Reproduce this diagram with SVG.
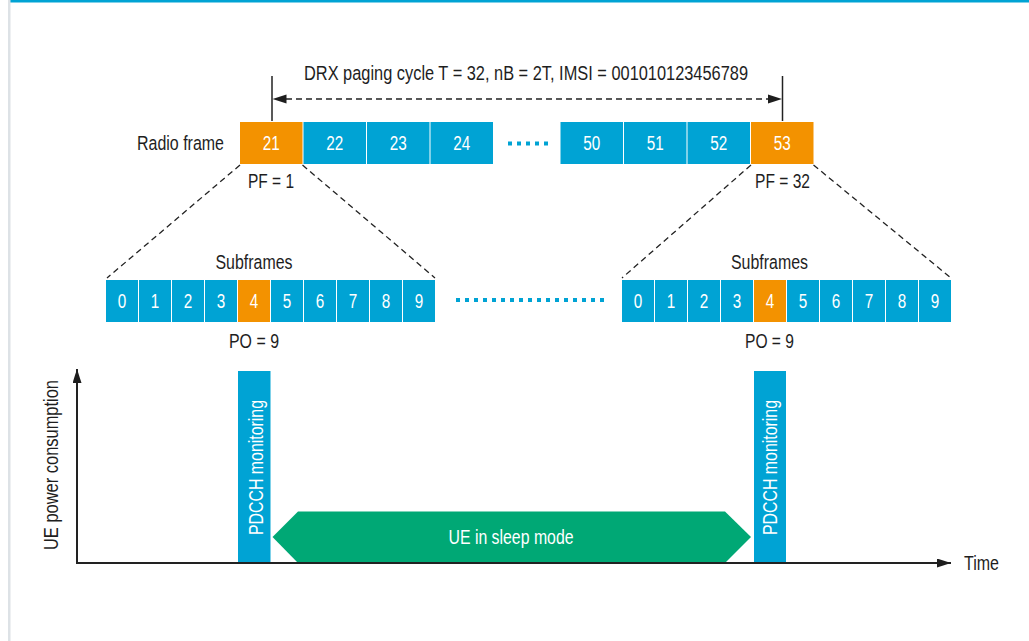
<svg xmlns="http://www.w3.org/2000/svg" width="1029" height="641" viewBox="0 0 1029 641">
  <defs>
    <style>
      .t { font-family: "Liberation Sans Narrow", "Liberation Sans", Roboto, sans-serif; fill: #1e1e1e; font-size: 20.5px; }
      .w { font-family: "Liberation Sans Narrow", "Liberation Sans", Roboto, sans-serif; fill: #ffffff; font-size: 20px; text-anchor: middle; }
      .c { text-anchor: middle; }
      .blue { fill: #00a3d4; }
      .orange { fill: #f39200; }
      .green { fill: #00a875; }
      .dash { stroke: #222; stroke-width: 1.3; stroke-dasharray: 6 4; fill: none; }
      .tick { stroke: #222; stroke-width: 1.5; }
      .dots { stroke: #00a3d4; stroke-width: 4; stroke-dasharray: 4 5; fill: none; }
      .axis { stroke: #222; stroke-width: 2; fill: none; }
    </style>
    <marker id="ah" viewBox="0 0 14 9" refX="14" refY="4.5" markerWidth="14" markerHeight="9" markerUnits="userSpaceOnUse" orient="auto">
      <path d="M0,0 L14,4.5 L0,9 Z" fill="#1e1e1e"/>
    </marker>
  </defs>

  <!-- page frame -->
  <rect x="0" y="0" width="1029" height="641" fill="#ffffff"/>
  <rect x="8" y="0" width="1021" height="2.5" fill="#00a3d4"/>
  <rect x="8" y="0" width="2.5" height="641" fill="#dde2e6"/>

  <!-- DRX cycle span -->
  <g id="drx-cycle">
    <line class="tick" x1="272" y1="76" x2="272" y2="121"/>
    <line class="tick" x1="782.5" y1="76" x2="782.5" y2="121"/>
    <line class="dash" x1="286" y1="99" x2="768" y2="99"/>
    <path d="M272.5,99 L286.5,94.5 L286.5,103.5 Z" fill="#1e1e1e"/>
    <path d="M782,99 L768,94.5 L768,103.5 Z" fill="#1e1e1e"/>
    <text class="t c" x="526" y="80" font-size="21" textLength="444" lengthAdjust="spacingAndGlyphs">DRX paging cycle T = 32, nB = 2T, IMSI = 001010123456789</text>
  </g>

  <!-- radio frames -->
  <g id="radio-frames">
    <text class="t" x="224" y="150" text-anchor="end" textLength="87" lengthAdjust="spacingAndGlyphs">Radio frame</text>
    <rect class="orange" x="240" y="122" width="62.5" height="42"/>
    <rect class="blue" x="303.5" y="122" width="62.5" height="42"/>
    <rect class="blue" x="367" y="122" width="62.5" height="42"/>
    <rect class="blue" x="430.5" y="122" width="62.5" height="42"/>
    <rect class="blue" x="560.5" y="122" width="62.5" height="42"/>
    <rect class="blue" x="624" y="122" width="62.5" height="42"/>
    <rect class="blue" x="687.5" y="122" width="62.5" height="42"/>
    <rect class="orange" x="751" y="122" width="62.5" height="42"/>
    <g class="w">
      <text x="271.3" y="150" textLength="17" lengthAdjust="spacingAndGlyphs">21</text>
      <text x="334.8" y="150" textLength="17" lengthAdjust="spacingAndGlyphs">22</text>
      <text x="398.3" y="150" textLength="17" lengthAdjust="spacingAndGlyphs">23</text>
      <text x="461.8" y="150" textLength="17" lengthAdjust="spacingAndGlyphs">24</text>
      <text x="591.8" y="150" textLength="17" lengthAdjust="spacingAndGlyphs">50</text>
      <text x="655.3" y="150" textLength="17" lengthAdjust="spacingAndGlyphs">51</text>
      <text x="718.8" y="150" textLength="17" lengthAdjust="spacingAndGlyphs">52</text>
      <text x="782.3" y="150" textLength="17" lengthAdjust="spacingAndGlyphs">53</text>
    </g>
    <line class="dots" x1="508" y1="143.5" x2="548" y2="143.5"/>
    <text class="t c" x="271" y="188" textLength="46" lengthAdjust="spacingAndGlyphs">PF = 1</text>
    <text class="t c" x="782.5" y="188" textLength="55" lengthAdjust="spacingAndGlyphs">PF = 32</text>
  </g>

  <!-- zoom lines from paging frames to subframes -->
  <g id="connectors">
    <line class="dash" x1="240" y1="165" x2="107" y2="278"/>
    <line class="dash" x1="302.5" y1="165" x2="435" y2="278"/>
    <line class="dash" x1="751" y1="165" x2="622" y2="278"/>
    <line class="dash" x1="813.5" y1="165" x2="951" y2="278"/>
  </g>

  <!-- subframes of first paging frame -->
  <g id="subframes-left">
    <text class="t c" x="254" y="269" textLength="77" lengthAdjust="spacingAndGlyphs">Subframes</text>
    <rect class="blue" x="106" y="280" width="32" height="42"/>
    <rect class="blue" x="139" y="280" width="32" height="42"/>
    <rect class="blue" x="172" y="280" width="32" height="42"/>
    <rect class="blue" x="205" y="280" width="32" height="42"/>
    <rect class="orange" x="238" y="280" width="32" height="42"/>
    <rect class="blue" x="271" y="280" width="32" height="42"/>
    <rect class="blue" x="304" y="280" width="32" height="42"/>
    <rect class="blue" x="337" y="280" width="32" height="42"/>
    <rect class="blue" x="370" y="280" width="32" height="42"/>
    <rect class="blue" x="403" y="280" width="32" height="42"/>
    <g class="w">
      <text x="122" y="308" textLength="8.5" lengthAdjust="spacingAndGlyphs">0</text>
      <text x="155" y="308" textLength="8.5" lengthAdjust="spacingAndGlyphs">1</text>
      <text x="188" y="308" textLength="8.5" lengthAdjust="spacingAndGlyphs">2</text>
      <text x="221" y="308" textLength="8.5" lengthAdjust="spacingAndGlyphs">3</text>
      <text x="254" y="308" textLength="8.5" lengthAdjust="spacingAndGlyphs">4</text>
      <text x="287" y="308" textLength="8.5" lengthAdjust="spacingAndGlyphs">5</text>
      <text x="320" y="308" textLength="8.5" lengthAdjust="spacingAndGlyphs">6</text>
      <text x="353" y="308" textLength="8.5" lengthAdjust="spacingAndGlyphs">7</text>
      <text x="386" y="308" textLength="8.5" lengthAdjust="spacingAndGlyphs">8</text>
      <text x="419" y="308" textLength="8.5" lengthAdjust="spacingAndGlyphs">9</text>
    </g>
    <text class="t c" x="254" y="348" textLength="50" lengthAdjust="spacingAndGlyphs">PO = 9</text>
  </g>

  <line id="subframe-gap" class="dots" x1="456" y1="300" x2="605" y2="300"/>

  <!-- subframes of last paging frame -->
  <g id="subframes-right">
    <text class="t c" x="769.5" y="269" textLength="77" lengthAdjust="spacingAndGlyphs">Subframes</text>
    <rect class="blue" x="622" y="280" width="32" height="42"/>
    <rect class="blue" x="655" y="280" width="32" height="42"/>
    <rect class="blue" x="688" y="280" width="32" height="42"/>
    <rect class="blue" x="721" y="280" width="32" height="42"/>
    <rect class="orange" x="754" y="280" width="32" height="42"/>
    <rect class="blue" x="787" y="280" width="32" height="42"/>
    <rect class="blue" x="820" y="280" width="32" height="42"/>
    <rect class="blue" x="853" y="280" width="32" height="42"/>
    <rect class="blue" x="886" y="280" width="32" height="42"/>
    <rect class="blue" x="919" y="280" width="32" height="42"/>
    <g class="w">
      <text x="638" y="308" textLength="8.5" lengthAdjust="spacingAndGlyphs">0</text>
      <text x="671" y="308" textLength="8.5" lengthAdjust="spacingAndGlyphs">1</text>
      <text x="704" y="308" textLength="8.5" lengthAdjust="spacingAndGlyphs">2</text>
      <text x="737" y="308" textLength="8.5" lengthAdjust="spacingAndGlyphs">3</text>
      <text x="770" y="308" textLength="8.5" lengthAdjust="spacingAndGlyphs">4</text>
      <text x="803" y="308" textLength="8.5" lengthAdjust="spacingAndGlyphs">5</text>
      <text x="836" y="308" textLength="8.5" lengthAdjust="spacingAndGlyphs">6</text>
      <text x="869" y="308" textLength="8.5" lengthAdjust="spacingAndGlyphs">7</text>
      <text x="902" y="308" textLength="8.5" lengthAdjust="spacingAndGlyphs">8</text>
      <text x="935" y="308" textLength="8.5" lengthAdjust="spacingAndGlyphs">9</text>
    </g>
    <text class="t c" x="769.5" y="348" textLength="49" lengthAdjust="spacingAndGlyphs">PO = 9</text>
  </g>

  <!-- power consumption chart -->
  <g id="pdcch-1">
    <rect class="blue" x="238" y="371" width="32.5" height="192"/>
    <text class="w" transform="translate(262.5,467.5) rotate(-90)" font-size="21" textLength="135" lengthAdjust="spacingAndGlyphs">PDCCH monitoring</text>
  </g>
  <g id="pdcch-2">
    <rect class="blue" x="754" y="371" width="32" height="192"/>
    <text class="w" transform="translate(777,467.5) rotate(-90)" font-size="21" textLength="135" lengthAdjust="spacingAndGlyphs">PDCCH monitoring</text>
  </g>
  <g id="sleep">
    <path class="green" d="M272.5,537 L298,511.5 L725,511.5 L751,537 L725,563 L298,563 Z"/>
    <text class="w" x="511" y="543.5" font-size="21" textLength="125" lengthAdjust="spacingAndGlyphs">UE in sleep mode</text>
  </g>
  <g id="axes">
    <line class="axis" x1="77" y1="564" x2="77" y2="369" marker-end="url(#ah)"/>
    <line class="axis" x1="76" y1="563" x2="951" y2="563" marker-end="url(#ah)"/>
    <text class="t c" transform="translate(57.5,465) rotate(-90)" font-size="21" textLength="170" lengthAdjust="spacingAndGlyphs">UE power consumption</text>
    <text class="t" x="964" y="570" textLength="35" lengthAdjust="spacingAndGlyphs">Time</text>
  </g>
</svg>
